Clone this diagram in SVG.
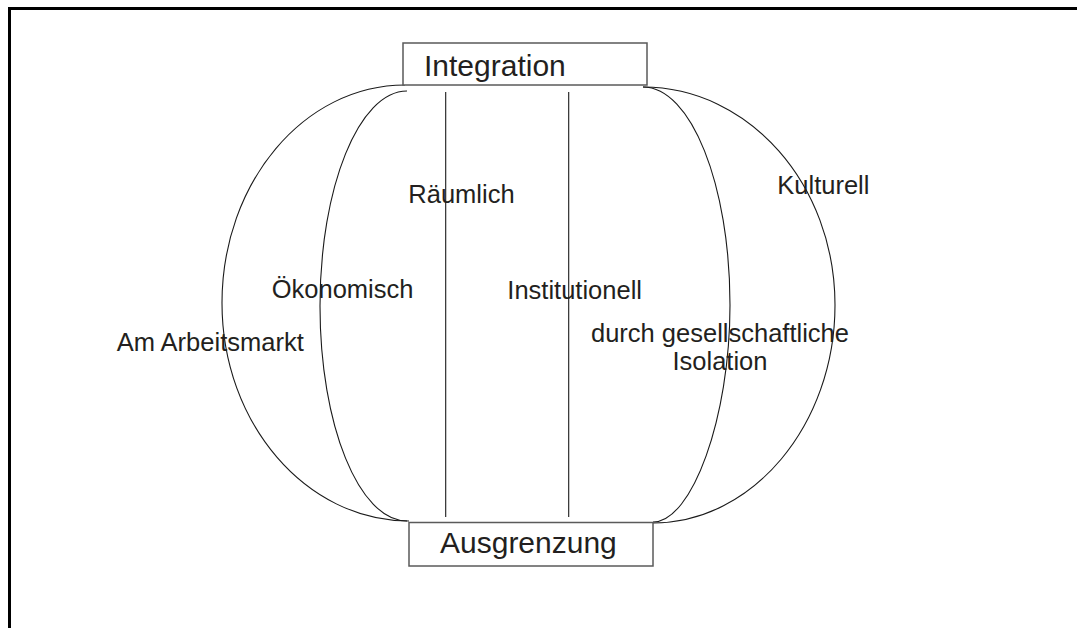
<svg xmlns="http://www.w3.org/2000/svg" width="1077" height="628" viewBox="0 0 1077 628">
  <style>
    .box { fill: #ffffff; stroke: #5a5a5a; stroke-width: 1.5; }
    .title { font-family: "Liberation Sans", Arial, sans-serif; font-size: 30px; fill: #231f20; }
    .lbl { font-family: "Liberation Sans", Arial, sans-serif; font-size: 25.5px; fill: #231f20; }
    .conn { fill: none; stroke: #1a1a1a; stroke-width: 1.1; }
    .frame { fill: none; stroke: #000000; stroke-width: 3; }
  </style>
  <rect x="0" y="0" width="1077" height="628" fill="#ffffff"/>
  <path class="frame" d="M9.5,628 V8.5 H1077"/>

  <g id="connectors">
    <path class="conn" d="M405,85 C304,85 222,182.6 222,303 C222,423.4 306,521 409,521"/>
    <path class="conn" d="M407,91 C359,91 320,187 320,306 C320,425 359,521 407,521"/>
    <path class="conn" d="M643,87 C749,87 835,184.6 835,305 C835,425 752.5,523 653,523"/>
    <path class="conn" d="M643,87 C691,87 730,184.6 730,305 C730,418 692,522 653,522"/>
    <line class="conn" x1="445.7" y1="92" x2="445.7" y2="517"/>
    <line class="conn" x1="568.7" y1="92" x2="568.7" y2="517"/>
  </g>

  <g id="integration">
    <rect class="box" x="403" y="43" width="244" height="42"/>
    <text class="title" x="424" y="75.7">Integration</text>
  </g>
  <g id="ausgrenzung">
    <rect class="box" x="409" y="522.5" width="244" height="43.5"/>
    <text class="title" x="440" y="553.3">Ausgrenzung</text>
  </g>

  <g id="label-arbeitsmarkt"><text class="lbl" x="116.7" y="350.7">Am Arbeitsmarkt</text></g>
  <g id="label-oekonomisch"><text class="lbl" x="271.7" y="298.3">Ökonomisch</text></g>
  <g id="label-raeumlich"><text class="lbl" x="408.3" y="203.3">Räumlich</text></g>
  <g id="label-institutionell"><text class="lbl" x="507.3" y="299">Institutionell</text></g>
  <g id="label-isolation">
    <text class="lbl" text-anchor="middle" x="720" y="341.7">durch gesellschaftliche</text>
    <text class="lbl" text-anchor="middle" x="720" y="370">Isolation</text>
  </g>
  <g id="label-kulturell"><text class="lbl" x="777.3" y="194.3">Kulturell</text></g>
</svg>
